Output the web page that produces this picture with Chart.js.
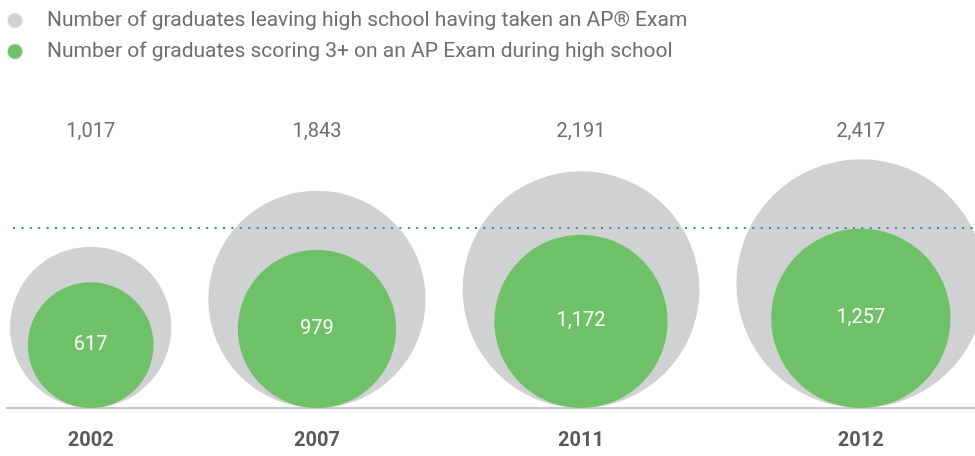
<!DOCTYPE html>
<html>
<head>
<meta charset="utf-8">
<script src="https://cdn.jsdelivr.net/npm/chart.js@4/dist/chart.umd.min.js"></script>
<style>
  body { margin: 0; background: #fff; }
  #wrap { width: 975px; height: 456px; }
</style>
</head>
<body>
<div id="wrap"><canvas id="myChart" width="975" height="456"></canvas></div>
<script>
// data
var years = ["2002", "2007", "2011", "2012"];
var tookExam = [1017, 1843, 2191, 2417];
var scored3 = [617, 979, 1172, 1257];
var seriesNames = [
    "Number of graduates leaving high school having taken an AP\u00AE Exam",
    "Number of graduates scoring 3+ on an AP Exam during high school"
];

var FONT = "Roboto, 'Liberation Sans', sans-serif";
var GRAY = '#d0d1d3';
var GREEN = '#6ec167';
var TEXT = '#6d6e71';

// axis units are pixels (chart area is 968 x 408)
var k = 2.53;          // px of radius per sqrt(value)
var firstEdge = 3;     // left edge of first bubble
var gap = 37;          // space between bubbles
var dotLevel = 180;    // height of the dotted rule
var totalsLevel = 276; // height of the labels above the bubbles

function radius(v) { return k * Math.sqrt(v); }

// centres: bubbles laid side by side with a fixed gap
var centres = [];
tookExam.forEach(function (v, i) {
    var r = radius(v);
    if (i === 0) centres.push(firstEdge + r);
    else centres.push(centres[i - 1] + radius(tookExam[i - 1]) + gap + r);
});

function bubbles(values) {
    return values.map(function (v, i) {
        var r = radius(v);
        return { x: centres[i], y: r, r: r };
    });
}

function legendDot(color) {
    var c = document.createElement('canvas');
    c.width = 40; c.height = 20;
    var g = c.getContext('2d');
    g.fillStyle = color;
    g.beginPath();
    g.arc(8.25, 10, 7.5, 0, Math.PI * 2);
    g.fill();
    return c;
}
var dots = [legendDot(GRAY), legendDot(GREEN)];

var valueLabels = {
    id: 'valueLabels',
    afterDatasetsDraw: function (chart) {
        var ctx = chart.ctx;
        var yScale = chart.scales.y;
        ctx.save();
        ctx.textAlign = 'center';
        ctx.textBaseline = 'middle';
        ctx.font = '20px ' + FONT;
        chart.getDatasetMeta(0).data.forEach(function (el, i) {
            ctx.fillStyle = TEXT;
            ctx.fillText(tookExam[i].toLocaleString('en-US'), el.x, yScale.getPixelForValue(totalsLevel));
        });
        chart.getDatasetMeta(2).data.forEach(function (el, i) {
            ctx.fillStyle = '#ffffff';
            ctx.fillText(scored3[i].toLocaleString('en-US'), el.x, el.y);
        });
        ctx.restore();
    }
};

var ctx = document.getElementById('myChart').getContext('2d');
var chart = new Chart(ctx, {
    type: 'bubble',
    data: {
        datasets: [{
            label: seriesNames[0],
            data: bubbles(tookExam),
            backgroundColor: GRAY,
            borderWidth: 0,
            order: 2
        }, {
            type: 'line',
            label: 'rule',
            data: [{ x: 6, y: dotLevel }, { x: 968, y: dotLevel }],
            borderColor: '#3d86b3',
            borderWidth: 2,
            borderDash: [2, 6.4],
            pointRadius: 0,
            fill: false,
            order: 1
        }, {
            label: seriesNames[1],
            data: bubbles(scored3),
            backgroundColor: GREEN,
            borderWidth: 0,
            order: 0
        }]
    },
    options: {
        responsive: false,
        animation: false,
        events: [],
        layout: { autoPadding: false, padding: { left: 7, right: 0, top: 0, bottom: 0 } },
        scales: {
            x: {
                type: 'linear',
                min: 0,
                max: 968,
                afterBuildTicks: function (axis) {
                    axis.ticks = centres.map(function (c) { return { value: c }; });
                },
                afterFit: function (axis) { axis.height = 48; },
                grid: { display: false, drawTicks: false },
                border: { display: true, color: '#c8c9cb', width: 2 },
                ticks: {
                    autoSkip: false,
                    maxRotation: 0,
                    padding: 21,
                    color: '#58595b',
                    font: { family: FONT, size: 20, weight: 'bold' },
                    callback: function (value, index) { return years[index]; }
                }
            },
            y: {
                display: false,
                min: 0,
                max: 408
            }
        },
        plugins: {
            tooltip: { enabled: false },
            legend: {
                position: 'chartArea',
                align: 'start',
                labels: {
                    usePointStyle: true,
                    pointStyleWidth: 19.5,
                    padding: 10,
                    color: TEXT,
                    font: { family: FONT, size: 21 },
                    generateLabels: function (chart) {
                        var items = Chart.defaults.plugins.legend.labels.generateLabels(chart);
                        items = items.filter(function (it) { return it.datasetIndex !== 1; });
                        items.sort(function (a, b) { return a.datasetIndex - b.datasetIndex; });
                        items.forEach(function (it) {
                            it.pointStyle = dots[it.datasetIndex === 0 ? 0 : 1];
                        });
                        return items;
                    }
                }
            }
        }
    },
    plugins: [valueLabels]
});
</script>
</body>
</html>
